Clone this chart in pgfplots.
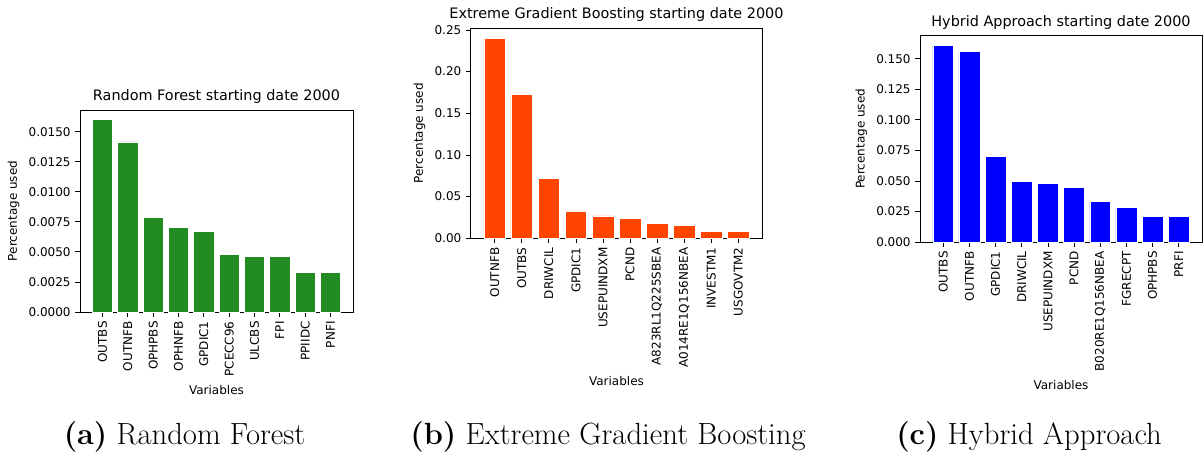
\documentclass[border=0pt]{standalone}
\usepackage{pgfplots}
\pgfplotsset{compat=1.18}
\usepackage{fontspec}
\newfontfamily\dejavu{DejaVu Sans}
\definecolor{fgreen}{RGB}{34,139,34}
\definecolor{ored}{RGB}{255,69,0}
\definecolor{pblue}{RGB}{0,0,255}
\pgfplotsset{mpl/.style={
  scale only axis, anchor=south west,
  axis line style={black, line width=0.6pt},
  major tick style={black, line width=0.6pt},
  tick align=outside, major tick length=3.5pt,
  xtick pos=bottom, ytick pos=left,
  xmin=-0.89, xmax=9.89, ymin=0, xtick={0,...,9},
  ybar, bar width=0.8,
  font=\dejavu\fontsize{9}{10.8}\selectfont,
  title style={font=\dejavu\fontsize{10.8}{13}\selectfont, yshift=-4.5pt},
  xticklabel style={rotate=90, anchor=east, font=\dejavu\fontsize{9}{10.8}\selectfont},
  yticklabel style={font=\dejavu\fontsize{9}{10.8}\selectfont},
  scaled y ticks=false,
  /pgf/number format/assume math mode=true,
  xlabel={Variables}, ylabel={Percentage used},
  every axis plot/.append style={draw=white, line width=0.4pt},
}}
\begin{document}
\begin{tikzpicture}
\useasboundingbox (0,0) rectangle (902.25pt,340.5pt);
% (a) Random Forest
\begin{axis}[mpl, at={(60pt,106.5pt)}, width=204.75pt, height=151.5pt,
  ymax=0.0168, ytick={0,0.0025,0.005,0.0075,0.01,0.0125,0.015},
  yticklabel style={/pgf/number format/.cd, fixed, fixed zerofill, precision=4},
  title={Random Forest starting date 2000},
  xticklabels={OUTBS,OUTNFB,OPHPBS,OPHNFB,GPDIC1,PCECC96,ULCBS,FPI,PPIIDC,PNFI}]
\addplot[fill=fgreen] coordinates {(0,0.0160) (1,0.01415) (2,0.00788) (3,0.00705) (4,0.00672) (5,0.0048) (6,0.00465) (7,0.00465) (8,0.0033) (9,0.0033)};
\end{axis}
% (b) Extreme Gradient Boosting
\begin{axis}[mpl, at={(353pt,161.8pt)}, width=218.7pt, height=157.5pt,
  ymax=0.252, ytick={0,0.05,0.1,0.15,0.2,0.25},
  yticklabel style={/pgf/number format/.cd, fixed, fixed zerofill, precision=2},
  title={Extreme Gradient Boosting starting date 2000},
  xticklabels={OUTNFB,OUTBS,DRIWCIL,GPDIC1,USEPUINDXM,PCND,A823RL1Q225SBEA,A014RE1Q156NBEA,INVESTM1,USGOVTM2}]
\addplot[fill=ored] coordinates {(0,0.240) (1,0.1728) (2,0.0715) (3,0.0328) (4,0.0268) (5,0.0236) (6,0.0175) (7,0.0156) (8,0.0084) (9,0.0084)};
\end{axis}
% (c) Hybrid Approach
\begin{axis}[mpl, at={(690pt,159pt)}, width=211.5pt, height=154.7pt,
  ymax=0.1688, ytick={0,0.025,0.05,0.075,0.1,0.125,0.15},
  yticklabel style={/pgf/number format/.cd, fixed, fixed zerofill, precision=3},
  title={Hybrid Approach starting date 2000},
  xticklabels={OUTBS,OUTNFB,GPDIC1,DRIWCIL,USEPUINDXM,PCND,B020RE1Q156NBEA,FGRECPT,OPHPBS,PRFI}]
\addplot[fill=pblue] coordinates {(0,0.1608) (1,0.1557) (2,0.0698) (3,0.0499) (4,0.0480) (5,0.0447) (6,0.0333) (7,0.0284) (8,0.0210) (9,0.0210)};
\end{axis}
% captions
\node[font=\fontsize{23}{27}\selectfont] at (138.4pt,13pt) {\textbf{(a)} Random Forest};
\node[font=\fontsize{23}{27}\selectfont] at (456pt,13pt) {\textbf{(b)} Extreme Gradient Boosting};
\node[font=\fontsize{23}{27}\selectfont] at (771.8pt,13pt) {\textbf{(c)} Hybrid Approach};
\end{tikzpicture}
\end{document}
